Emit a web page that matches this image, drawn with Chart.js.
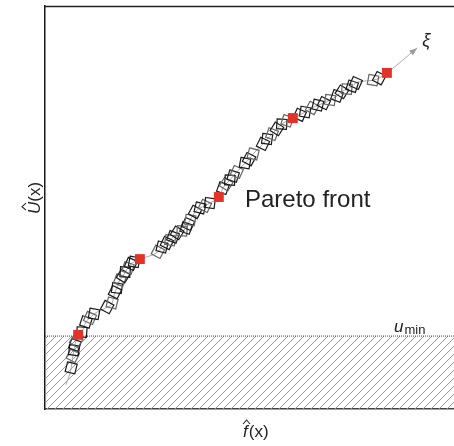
<!DOCTYPE html>
<html>
<head>
<meta charset="utf-8">
<script src="https://cdn.jsdelivr.net/npm/chart.js@4.4.0/dist/chart.umd.min.js"></script>
<style>
  body { margin: 0; background: #fff; }
  canvas { display: block; }
</style>
</head>
<body>
<canvas id="paretoChart" width="454" height="446"></canvas>
<script>
// Candidate solutions along the front: objective f and utility U
const frontF = [0.64, 0.68, 0.71, 0.73, 0.76, 0.90, 1.00, 1.10, 1.20, 1.52, 1.64, 1.71, 1.76, 1.83, 1.91,
  1.96, 2.03, 2.10, 2.18, 2.76, 2.86, 2.98, 3.06, 3.13, 3.23, 3.35, 3.45, 3.50, 3.55, 3.67, 3.79, 3.91,
  4.03, 4.35, 4.43, 4.52, 4.60, 4.69, 4.89, 4.99, 5.09, 5.33, 5.43, 5.55, 5.67, 5.79, 5.92, 6.23, 6.36,
  6.53, 6.67, 6.82, 6.97, 7.14, 7.26, 7.38, 7.51, 7.60, 8.02, 8.17];
const frontU = [1.02, 1.32, 1.46, 1.59, 1.69, 1.91, 2.16, 2.26, 2.36, 2.53, 2.63, 2.90, 3.00, 3.20, 3.30,
  3.40, 3.50, 3.60, 3.65, 3.90, 4.02, 4.12, 4.19, 4.27, 4.37, 4.42, 4.49, 4.59, 4.69, 4.89, 4.99, 5.04,
  5.11, 5.48, 5.58, 5.68, 5.78, 5.88, 6.10, 6.20, 6.33, 6.58, 6.70, 6.82, 6.95, 7.07, 7.15, 7.30, 7.37,
  7.47, 7.54, 7.59, 7.67, 7.77, 7.87, 7.94, 8.01, 8.09, 8.16, 8.21];

// Highlighted solutions
const keyF = [0.81, 2.32, 4.25, 6.06, 8.36];
const keyU = [1.84, 3.72, 5.26, 7.22, 8.34];

// Where the front line starts and where the xi arrow ends
const tailPoint = { x: 0.51, y: 0.60 };
const xiTip = { x: 9.10, y: 8.96 };

// Minimum admissible U
const uMin = 1.81;

const FONT = '"Liberation Sans", Arial, sans-serif';

const toPoints = (xs, ys) => xs.map((v, i) => ({ x: v, y: ys[i] }));
const frontPoints = toPoints(frontF, frontU);
const keyPoints = toPoints(keyF, keyU);
const trendPoints = [tailPoint, ...[...frontPoints, ...keyPoints].sort((a, b) => a.x - b.x), xiTip];

const canvas = document.getElementById('paretoChart');
const ctx = canvas.getContext('2d');

// diagonal hatching for the region below u_min
function makeHatch() {
  const tile = document.createElement('canvas');
  tile.width = 8; tile.height = 8;
  const g = tile.getContext('2d');
  g.strokeStyle = '#9a9a9a';
  g.lineWidth = 1;
  g.beginPath();
  g.moveTo(0, 8); g.lineTo(8, 0);
  g.moveTo(-1, 1); g.lineTo(1, -1);
  g.moveTo(7, 9); g.lineTo(9, 7);
  g.stroke();
  return ctx.createPattern(tile, 'repeat');
}

const tilts = [14, 26, 8, 20, 32, 4, 18, 24, 10, 28];

function hat(c, cx, top) {
  c.beginPath();
  c.moveTo(cx - 3.5, top + 4);
  c.lineTo(cx, top);
  c.lineTo(cx + 3.5, top + 4);
  c.stroke();
}

const annotations = {
  id: 'annotations',
  afterDatasetsDraw(chart) {
    const { ctx: c, chartArea: a, scales: { x, y } } = chart;
    c.save();

    // top edge of the frame
    c.strokeStyle = '#222';
    c.lineWidth = 1.5;
    c.beginPath();
    c.moveTo(a.left, a.top + 0.5);
    c.lineTo(a.right, a.top + 0.5);
    c.stroke();

    // arrow head at the end of the front
    const last = keyPoints[keyPoints.length - 1];
    const tx = x.getPixelForValue(xiTip.x), ty = y.getPixelForValue(xiTip.y);
    const ang = Math.atan2(ty - y.getPixelForValue(last.y), tx - x.getPixelForValue(last.x));
    c.fillStyle = '#9a9a9a';
    c.beginPath();
    c.moveTo(tx, ty);
    c.lineTo(tx - 8 * Math.cos(ang) + 3 * Math.sin(ang), ty - 8 * Math.sin(ang) - 3 * Math.cos(ang));
    c.lineTo(tx - 8 * Math.cos(ang) - 3 * Math.sin(ang), ty - 8 * Math.sin(ang) + 3 * Math.cos(ang));
    c.closePath();
    c.fill();

    c.fillStyle = '#222';
    c.textBaseline = 'alphabetic';
    c.textAlign = 'left';

    // xi label
    c.font = 'italic 18px ' + FONT;
    c.fillText('\u03BE', tx + 5, ty - 2);

    // front label
    c.font = '24px ' + FONT;
    c.fillText('Pareto front', x.getPixelForValue(4.89), y.getPixelForValue(5.01));

    // u_min label
    const uy = y.getPixelForValue(uMin);
    c.font = 'italic 17px ' + FONT;
    c.fillText('u', 394, uy - 4);
    const uw = c.measureText('u').width;
    c.font = '13px ' + FONT;
    c.fillText('min', 394 + uw + 1, uy - 2);

    // x axis title: f-hat(x)
    c.strokeStyle = '#222';
    c.lineWidth = 1.1;
    const bx = 243, by = 437;
    c.font = 'italic 17px ' + FONT;
    c.fillText('f', bx, by);
    const fw = c.measureText('f').width;
    hat(c, bx + fw * 0.75, by - 17);
    c.font = '17px ' + FONT;
    c.fillText('(x)', bx + fw + 1, by);

    // y axis title: U-hat(x), rotated
    c.translate(40, 198);
    c.rotate(-Math.PI / 2);
    c.font = 'italic 17px ' + FONT;
    const uW = c.measureText('U').width;
    c.font = '17px ' + FONT;
    const rest = c.measureText('(x)').width;
    const start = -(uW + rest) / 2;
    c.font = 'italic 17px ' + FONT;
    c.fillText('U', start, 0);
    hat(c, start + uW * 0.6, -18);
    c.font = '17px ' + FONT;
    c.fillText('(x)', start + uW, 0);

    c.restore();
  }
};

new Chart(ctx, {
  type: 'scatter',
  data: {
    datasets: [
      {
        label: 'key',
        data: keyPoints,
        pointStyle: 'rect',
        pointRadius: 7,
        backgroundColor: '#e2332a',
        borderWidth: 0,
        order: 0
      },
      {
        label: 'front',
        data: frontPoints,
        pointStyle: 'rect',
        pointRadius: 7,
        rotation: c => tilts[c.dataIndex % tilts.length],
        backgroundColor: 'rgba(0,0,0,0)',
        borderColor: c => (c.dataIndex % 3 === 1 ? '#666' : '#1a1a1a'),
        borderWidth: 1.2,
        order: 1
      },
      {
        label: 'trend',
        data: trendPoints,
        showLine: true,
        cubicInterpolationMode: 'monotone',
        borderColor: '#a8a8a8',
        borderWidth: 1,
        pointRadius: 0,
        order: 2
      },
      {
        label: 'uMin',
        data: [{ x: 0, y: uMin }, { x: 10, y: uMin }],
        showLine: true,
        borderColor: '#444',
        borderWidth: 1,
        borderDash: [1, 1],
        pointRadius: 0,
        fill: 'start',
        backgroundColor: makeHatch(),
        order: 3
      }
    ]
  },
  options: {
    responsive: false,
    devicePixelRatio: 1,
    animation: false,
    layout: { autoPadding: false, padding: { left: 45, top: 6, right: 0, bottom: 37 } },
    plugins: { legend: { display: false }, tooltip: { enabled: false } },
    scales: {
      x: {
        type: 'linear',
        min: 0,
        max: 10,
        grid: { display: false, drawTicks: false },
        ticks: { display: false },
        border: { display: true, color: '#444', width: 1.5 }
      },
      y: {
        type: 'linear',
        min: 0,
        max: 10,
        grid: { display: false, drawTicks: false },
        ticks: { display: false },
        border: { display: true, color: '#1a1a1a', width: 1.5 }
      }
    }
  },
  plugins: [annotations]
});
</script>
</body>
</html>
